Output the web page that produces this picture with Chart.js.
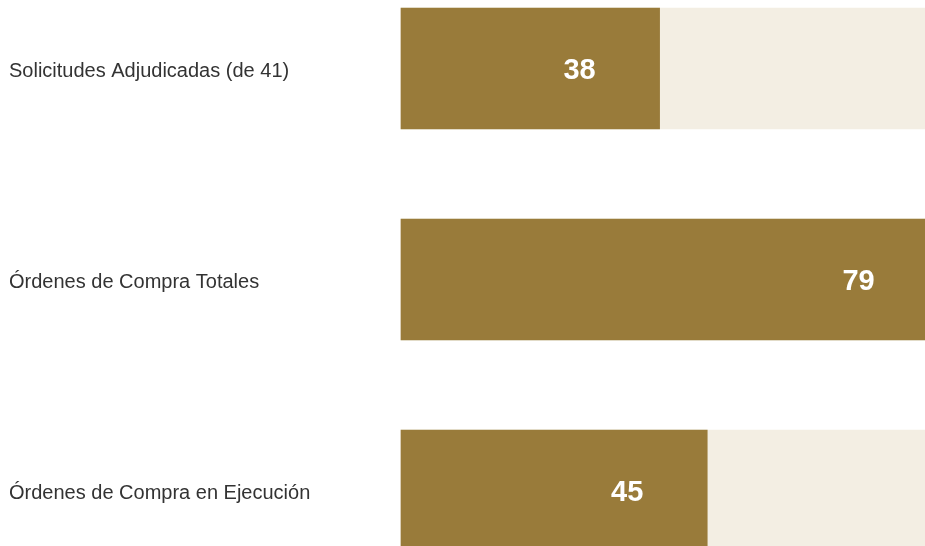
<!DOCTYPE html>
<html>
<head>
<meta charset="utf-8">
<script src="https://cdn.jsdelivr.net/npm/chart.js@4.4.1/dist/chart.umd.min.js"></script>
<style>
    html, body { margin: 0; padding: 0; background: #fff; overflow: hidden; }
    .wrap { position: relative; width: 925px; height: 546px; }
</style>
</head>
<body>
<div class="wrap"><canvas id="kpiChart"></canvas></div>
<script>
// data
const categories = [
    'Solicitudes Adjudicadas (de 41)',
    'Órdenes de Compra Totales',
    'Órdenes de Compra en Ejecución'
];
const values = [38, 79, 45];
const scaleMax = 77;
const trackValues = [scaleMax, scaleMax, scaleMax];

// value labels drawn inside each bar, near its end
const valueLabels = {
    id: 'valueLabels',
    afterDatasetsDraw(chart) {
        const ctx = chart.ctx;
        const meta = chart.getDatasetMeta(0);
        ctx.save();
        ctx.fillStyle = '#ffffff';
        ctx.font = 'bold 29px "Liberation Sans", Arial, sans-serif';
        ctx.textAlign = 'center';
        ctx.textBaseline = 'middle';
        meta.data.forEach((bar, i) => {
            ctx.fillText(String(values[i]), bar.x - 80, bar.y + 2);
        });
        ctx.restore();
    }
};

new Chart(document.getElementById('kpiChart'), {
    type: 'bar',
    data: {
        labels: categories,
        datasets: [
            {
                data: values,
                backgroundColor: '#997b3a',
                borderWidth: 0,
                barThickness: 121,
                grouped: false,
                order: 0,
                clip: false
            },
            {
                data: trackValues,
                backgroundColor: '#f3eee3',
                borderWidth: 0,
                barThickness: 121,
                grouped: false,
                order: 1,
                clip: false
            }
        ]
    },
    options: {
        indexAxis: 'y',
        responsive: true,
        maintainAspectRatio: false,
        animation: false,
        layout: { padding: { left: 9, top: 68.5, bottom: 55.5, right: 0 } },
        plugins: {
            legend: { display: false },
            tooltip: { enabled: false }
        },
        scales: {
            x: {
                min: 0,
                max: scaleMax,
                display: false,
                grid: { display: false }
            },
            y: {
                offset: false,
                grid: { display: false },
                border: { display: false },
                afterFit: scale => { scale.width = 392; },
                ticks: {
                    crossAlign: 'far',
                    padding: 0,
                    labelOffset: 3,
                    color: '#333333',
                    font: { family: '"Liberation Sans", Arial, sans-serif', size: 20 }
                }
            }
        }
    },
    plugins: [valueLabels]
});
</script>
</body>
</html>
